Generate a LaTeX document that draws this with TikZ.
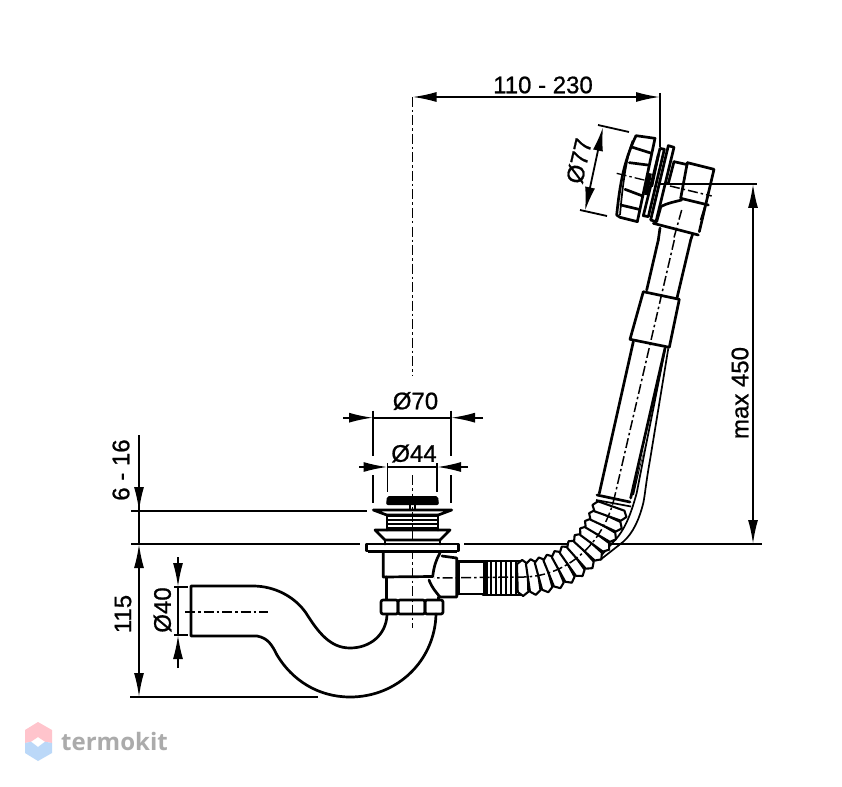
\documentclass[tikz,border=0pt]{standalone}
\usepackage{fontspec}
\setmainfont[FakeBold=0.8]{Liberation Sans}
\newfontfamily\wmfont{Open Sans}
\usetikzlibrary{arrows.meta,decorations.markings}
\tikzset{
  part/.style={line width=2.7pt,line join=round,line cap=round},
  thin part/.style={line width=1.7pt,line join=round},
  dimline/.style={line width=1.8pt},
  chain/.style={line width=1.8pt,dash pattern=on 10pt off 3pt on 2.5pt off 3pt},
  tiph/.style={-{Latex[length=24pt,width=10pt]}},
  tiphh/.style={{Latex[length=24pt,width=10pt]}-{Latex[length=24pt,width=10pt]}},
  dimlabel/.style={font=\fontsize{24}{24}\selectfont,inner sep=0pt,text=black}
}
\definecolor{wmgray}{HTML}{ABABAB}
\definecolor{wmpink}{HTML}{FFC4CC}
\definecolor{wmblue}{HTML}{BBD8F8}
\begin{document}
\begin{tikzpicture}[x=1pt,y=-1pt]
\useasboundingbox (0,0) rectangle (842,786);
\fill[white] (0,0) rectangle (842,786);

% ---- extension lines
\draw[dimline] (131,510.7) -- (367,510.7);
\draw[dimline] (131,544) -- (360,544);
\draw[dimline] (464,544) -- (762,544);
\draw[dimline] (130,697) -- (318,697);
\draw[dimline] (660,184) -- (757,184);
\draw[dimline] (660,93) -- (660,147);

% ---- centre lines
\draw[chain] (412.5,97) -- (412.5,375);
\draw[chain] (412.5,475) -- (412.5,628);
\draw[chain] (185,612) -- (268,612);

% ---- siphon
\draw[part] (387,615) .. controls (386,635) and (370,648) .. (350,648)
  .. controls (330,648) and (318,632) .. (306,613)
  .. controls (295,597) and (275,586) .. (253,586) -- (191,586) -- (191,636) -- (257,636)
  .. controls (268,638) and (272,645) .. (277,655)
  .. controls (292,680) and (318,697) .. (350,697)
  .. controls (398,697) and (435,660) .. (436,614);

% ---- waste body
\draw[part,rounded corners=2pt] (381,600) rectangle (398,614);
\draw[part,rounded corners=2pt] (398,600) rectangle (425,614);
\draw[part,rounded corners=2pt] (425,600) rectangle (443,614);
\draw[part] (386.7,577) -- (386.7,599);
\draw[part] (383.3,553) -- (383.3,577) -- (432.7,576.5);
\draw[part] (440,553) .. controls (436,560) and (434,566) .. (432.7,576.5);
\draw[part] (429,580) .. controls (432,588) and (436,592) .. (440,597) -- (456.7,597) -- (456.7,558) -- (442,556);
\draw[part] (438.5,597) -- (438.5,599);
\draw[part] (458.5,561.5) -- (485,561.5);
\draw[part] (458.5,594) -- (485,594);
\draw[part] (458.5,561.5) -- (458.5,594);
\fill[black] (483,560) rectangle (488,596);
\foreach \xx in {491,496,...,521} \draw[thin part] (\xx,561) -- (\xx,595);
\draw[part] (483,561) -- (521,561);
\draw[part] (483,595) -- (521,595);

% flange and upper parts
\draw[part,fill=white] (366.7,544) rectangle (458.3,551);
\fill[black] (368,550.5) rectangle (457,553);
\draw[part] (385,540) -- (385,544);
\draw[part] (440,540) -- (440,544);
\draw[part] (375,530) -- (450,530) -- (440,540) -- (385,540) -- cycle;
\foreach \yy in {516,520,524,528} \draw[thin part] (387,\yy) -- (438,\yy);
\draw[part] (387,515) -- (387,530);
\draw[part] (438,515) -- (438,530);
\draw[part] (373.3,510) -- (451.7,510) -- (438.3,515) -- (386.7,515) -- cycle;
\fill[black,rounded corners=2pt] (387,496) -- (438,496) -- (439,505) -- (386,505) -- cycle;
\draw[thin part] (410,505) -- (410,510);
\draw[thin part] (415,505) -- (415,510);

% ---- tube to overflow
\draw[part] (658.3,240) -- (646.7,290);
\draw[part] (690.7,240) -- (677,298);
\draw[part] (643.3,291.7) -- (679.3,299.3) -- (669.3,347.3) -- (630,339.3) -- cycle;
\draw[part] (633.3,341.7) -- (599.3,493.3);
\draw[part] (665,348.3) -- (630.7,498);
\draw[thin part] (668.3,348.3) -- (650,460) .. controls (646,482) and (645,495) .. (643.3,503)
  .. controls (639,520) and (633,533) .. (623.3,541.7) -- (600,560);
\draw[thin part] (665,350) -- (645.7,446.7) -- (636.7,493) .. controls (632,510) and (627,525) .. (618,536.7) -- (601.7,555);
\fill[black] (648,435) -- (645,446) -- (634,495) -- (632,495) -- cycle;

% ---- corrugated hose
\draw[decorate,decoration={markings,
   mark=between positions 0.02 and 0.98 step 10.6pt with {
     \draw[line width=2.1pt,fill=white,line join=round]
       (-5.3,-14) -- (0,-18) -- (5.3,-14) -- (5.3,14) -- (0,18) -- (-5.3,14) -- cycle;
   }}]
  (520,578) .. controls (565,578) and (602,545) .. (613,499);
\draw[part] (597,495) -- (630,502);
\draw[thin part] (596,500) -- (631,506.5);
\draw[chain,line width=1.5pt] (674.3,240) -- (615,495);
\draw[chain,line width=1.5pt] (615,495) .. controls (604,545) and (565,578) .. (520,577) -- (434,578);

% ---- overflow head (frame of the detail)
\begin{scope}[shift={(610,120)},x=0.3333pt,y=-0.3333pt]
  \draw[part,fill=white] (78,47) -- (135,55) -- (82,305) -- (30,292) -- (20,285)
     .. controls (28,210) and (38,130) .. (78,47) -- cycle;
  \draw[thin part] (68,62) .. controls (50,110) and (38,190) .. (30,285);
  \draw[part] (68,82) -- (125,100);
  \draw[part] (58,128) -- (113,135);
  \draw[part] (45,208) -- (98,228);
  \draw[part] (32,255) -- (87,268);
  \draw[part,fill=white] (150,85) -- (163,88) -- (115,290) -- (100,287) -- cycle;
  \draw[line width=2.8pt] (145,105) -- (125,200);
  \draw[line width=3.8pt] (120,160) -- (108,225);
  \draw[part,fill=white] (175,77) -- (192,82) -- (138,305) -- (122,300) -- cycle;
  \draw[part] (192,125) -- (232,134);
  \draw[part] (192,125) -- (175,190);
  \draw[part] (232,128) -- (312,148) -- (268,335);
  \draw[part] (232,128) -- (212,235) -- (295,255);
  \draw[part] (152,260) .. controls (170,250) and (195,245) .. (215,240);
  \draw[part] (152,262) -- (140,305);
  \draw[part] (130,310) -- (265,345);
  \draw[thin part] (285,258) -- (272,300);
  \draw[chain,line width=1.3pt] (20,160) -- (110,182);
  \draw[chain,line width=1.5pt] (180,198) -- (305,228);
  \draw[chain,line width=1.5pt] (215,270) -- (190,360);
\end{scope}
\draw[dimline] (660,184) -- (757,184);
\draw[part] (660,228) -- (658.3,240);
\draw[part] (692.7,234) -- (690.7,240);

% ---- dimensions
% 110 - 230
\draw[dimline,tiphh] (412.5,97) -- (660,97);
\node[dimlabel] (d110) at (543,85) {110 - 230};
% max 450
\draw[dimline,tiphh] (753,184) -- (753,544);
\node[dimlabel,rotate=90] (dmax) at (740,393) {max 450};
% 6 - 16
\draw[dimline,tiph] (139,435) -- (139,511);
\draw[dimline] (139,505) -- (139,544);
\node[dimlabel,rotate=90] (d616) at (121,470) {6 - 16};
% 115
\draw[dimline,tiphh] (139,544) -- (139,697);
\node[dimlabel,rotate=90] (d115) at (123,614) {115};
% diam 40
\draw[dimline,tiph] (178,557) -- (178,587);
\draw[dimline,tiph] (178,668) -- (178,635);
\draw[dimline] (178,587) -- (178,635);
\draw[dimline] (174,587) -- (188,587);
\draw[dimline] (174,635) -- (188,635);
\node[dimlabel,rotate=90] (d40) at (162.5,610) {Ø40};
% diam 70
\draw[dimline] (373,410.7) -- (373,456);
\draw[dimline] (451,410.7) -- (451,456);
\draw[dimline] (373,475) -- (373,503);
\draw[dimline] (451,475) -- (451,503);
\draw[dimline,tiph] (343,417.7) -- (373,417.7);
\draw[dimline,tiph] (483,417.7) -- (451,417.7);
\draw[dimline] (373,417.7) -- (451,417.7);
\node[dimlabel] (d70) at (415.5,401) {Ø70};
% diam 44
\draw[dimline] (387.5,463) -- (387.5,492);
\draw[dimline] (437,463) -- (437,492);
\draw[dimline,tiph] (359,467) -- (387.5,467);
\draw[dimline,tiph] (468,467) -- (437,467);
\draw[dimline] (387.5,467) -- (437,467);
\node[dimlabel] (d44) at (414,453.5) {Ø44};
% diam 77
\draw[dimline] (598,125) -- (629,132);
\draw[dimline] (580,210) -- (607,216);
\draw[dimline,tiphh] (603,127) -- (585,211);
\node[dimlabel,rotate=77] (d77) at (579,161) {Ø77};

% ---- watermark
\fill[wmpink] (38,722) -- (52,730) -- (52,743) -- (45,741.7) -- (38,737) -- (31,741.7) -- (25,743) -- (25,730) -- cycle;
\fill[wmblue] (25,743) -- (31,741.7) -- (38,747) -- (45,741.7) -- (52,743) -- (52,753) -- (38,761) -- (25,753) -- cycle;
\node[inner sep=0pt,text=wmgray,font=\wmfont\bfseries\fontsize{24}{24}\selectfont,anchor=west] (wm) at (61,741) {termokit};
\end{tikzpicture}
\end{document}
